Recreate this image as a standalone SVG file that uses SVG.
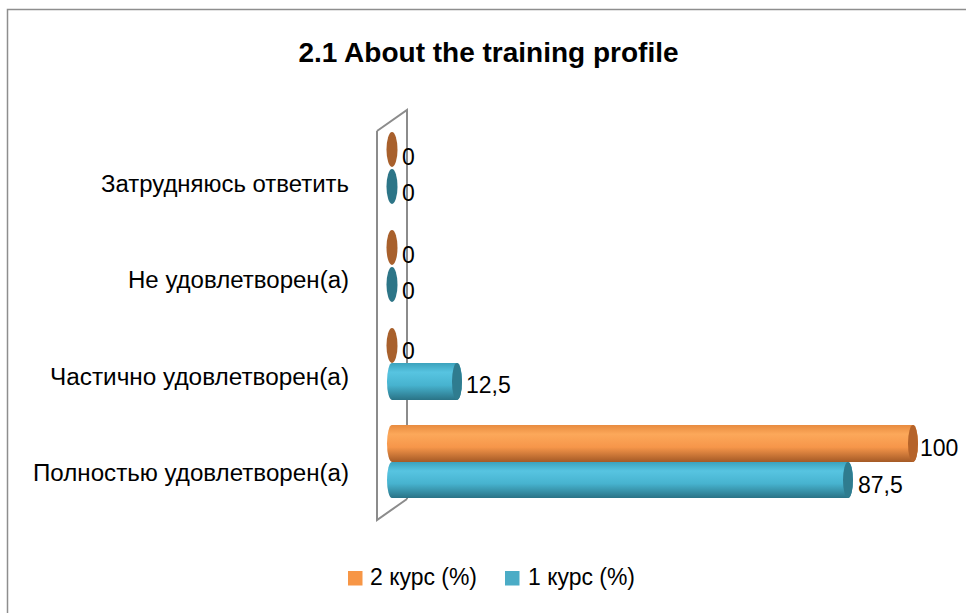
<svg xmlns="http://www.w3.org/2000/svg" width="966" height="613" viewBox="0 0 966 613">
<style>
text{font-family:"Liberation Sans",Arial,sans-serif;font-size:23px;fill:#000}
.title{font-size:28px;font-weight:bold}
.cat{text-anchor:end}
.wall{fill:none;stroke:#8c8c8c;stroke-width:2}
.capO{fill:#b5632a}
.capB{fill:#2f7c8f}
.zeroO{fill:#a8602c}
.zeroB{fill:#2d7587}
</style>
<defs>
<linearGradient id="gO" x1="0" y1="0" x2="0" y2="1">
<stop offset="0" stop-color="#e88b3f"/>
<stop offset="0.25" stop-color="#fca85a"/>
<stop offset="0.6" stop-color="#f6964a"/>
<stop offset="1" stop-color="#a45a26"/>
</linearGradient>
<linearGradient id="gB" x1="0" y1="0" x2="0" y2="1">
<stop offset="0" stop-color="#3ca2bc"/>
<stop offset="0.25" stop-color="#57c4e1"/>
<stop offset="0.6" stop-color="#47b3cf"/>
<stop offset="1" stop-color="#2a7386"/>
</linearGradient>
</defs>
<rect x="0" y="0" width="966" height="613" fill="#fff"/>
<rect x="7.5" y="9.5" width="1100" height="1100" fill="none" stroke="#8e8e8e" stroke-width="1.5"/>
<text class="title" x="488.5" y="62" text-anchor="middle">2.1 About the training profile</text>
<g id="wall">
<path class="wall" d="M377 131 L407 110 L407 499 M377 131 L377 520 L407 499"/>
</g>
<g id="cat-zatrud">
<text class="cat" x="349" y="192" textLength="248" lengthAdjust="spacingAndGlyphs">Затрудняюсь ответить</text>
<ellipse class="zeroO" cx="392" cy="149.5" rx="5.5" ry="17.5"/>
<ellipse class="zeroB" cx="392" cy="186.5" rx="5.5" ry="17.5"/>
<text x="402" y="165">0</text>
<text x="402" y="201">0</text>
</g>
<g id="cat-ne">
<text class="cat" x="349" y="288" textLength="221" lengthAdjust="spacingAndGlyphs">Не удовлетворен(а)</text>
<ellipse class="zeroO" cx="392" cy="247.5" rx="5.5" ry="17.5"/>
<ellipse class="zeroB" cx="392" cy="284.5" rx="5.5" ry="17.5"/>
<text x="402" y="263">0</text>
<text x="402" y="299">0</text>
</g>
<g id="cat-chast">
<text class="cat" x="349" y="385" textLength="299" lengthAdjust="spacingAndGlyphs">Частично удовлетворен(а)</text>
<ellipse class="zeroO" cx="392" cy="345.5" rx="5.5" ry="17.5"/>
<path d="M392 363 L457 363 A5 18.5 0 0 1 457 400 L392 400 A5 18.5 0 0 1 392 363 Z" fill="url(#gB)"/>
<ellipse class="capB" cx="457" cy="381.5" rx="5" ry="18.5"/>
<text x="402" y="359">0</text>
<text x="466" y="393">12,5</text>
</g>
<g id="cat-poln">
<text class="cat" x="349" y="481" textLength="316" lengthAdjust="spacingAndGlyphs">Полностью удовлетворен(а)</text>
<path d="M392 425 L913 425 A5 18.5 0 0 1 913 462 L392 462 A5 18.5 0 0 1 392 425 Z" fill="url(#gO)"/>
<ellipse class="capO" cx="913" cy="443.5" rx="5" ry="18.5"/>
<path d="M392 462 L848 462 A5 18 0 0 1 848 498 L392 498 A5 18 0 0 1 392 462 Z" fill="url(#gB)"/>
<ellipse class="capB" cx="848" cy="480" rx="5" ry="18"/>
<text x="920" y="456">100</text>
<text x="858" y="493">87,5</text>
</g>
<g id="legend">
<rect x="348" y="571" width="14.5" height="14.5" fill="#f79646"/>
<text x="370" y="585" textLength="107" lengthAdjust="spacingAndGlyphs">2 курс (%)</text>
<rect x="505" y="571" width="14.5" height="14.5" fill="#4bacc6"/>
<text x="528" y="585" textLength="107" lengthAdjust="spacingAndGlyphs">1 курс (%)</text>
</g>
</svg>
